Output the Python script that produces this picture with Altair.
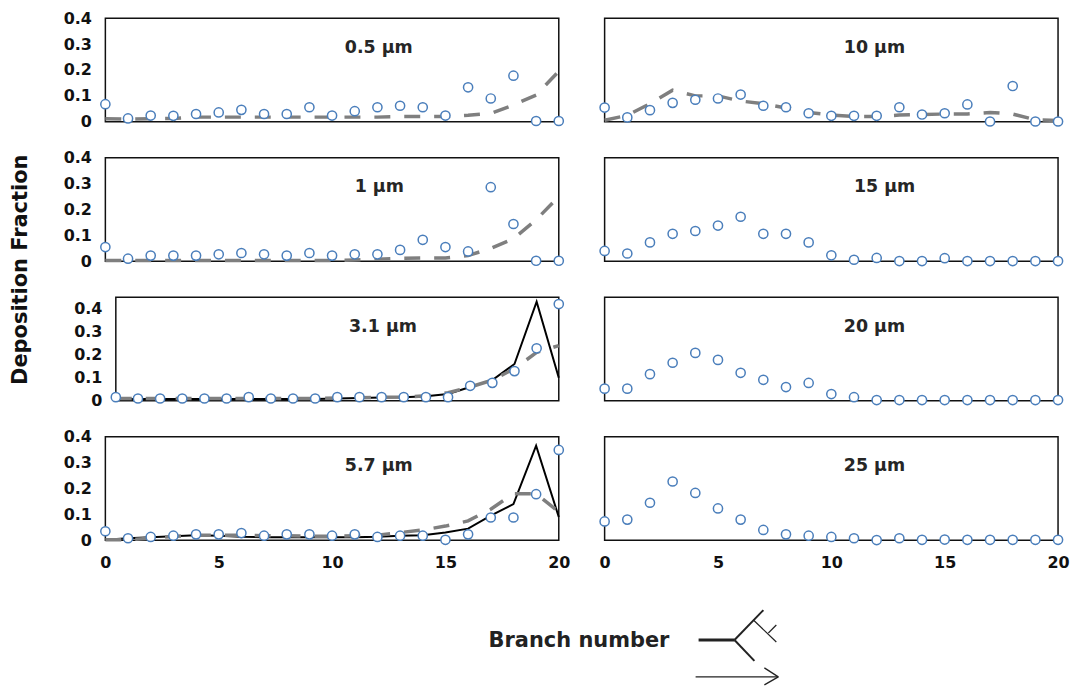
import altair as alt
import pandas as pd

branches = list(range(21))
labels = ["0.5 μm", "10 μm", "1 μm", "15 μm", "3.1 μm", "20 μm", "5.7 μm", "25 μm"]

c05 = [.068,.013,.024,.023,.03,.036,.046,.03,.03,.056,.024,.041,.056,.062,.056,.024,.133,.09,.178,.003,.003]
d05 = [.012,.01,.012,.013,.018,.018,.018,.018,.018,.018,.018,.018,.018,.02,.02,.02,.025,.032,.065,.103,.195]
c1 = [.055,.01,.022,.022,.022,.027,.032,.027,.022,.032,.022,.027,.027,.044,.083,.055,.038,.286,.144,.002,.002]
d1 = [.003,.003,.003,.003,.003,.003,.003,.003,.003,.003,.003,.005,.008,.012,.013,.013,.022,.05,.087,.16,.25]
c31 = [.016,.01,.01,.01,.01,.01,.016,.01,.01,.01,.016,.016,.016,.016,.016,.016,.065,.078,.129,.228,.42]
d31 = [.01,.01,.01,.01,.01,.01,.01,.01,.01,.01,.012,.013,.016,.016,.022,.035,.06,.09,.14,.21,.24]
b31 = [.008,.008,.008,.008,.008,.008,.008,.008,.008,.008,.01,.012,.014,.016,.02,.03,.06,.09,.16,.43,.1]
c57 = [.035,.008,.013,.018,.023,.023,.028,.018,.023,.023,.018,.023,.013,.018,.018,.002,.023,.088,.088,.178,.349]
d57 = [.002,.002,.008,.015,.02,.02,.02,.018,.018,.016,.016,.018,.02,.03,.04,.055,.075,.12,.18,.18,.11]
b57 = [.002,.008,.012,.016,.02,.018,.014,.012,.012,.012,.012,.012,.014,.018,.02,.03,.045,.095,.14,.365,.09]
c10 = [.055,.017,.045,.073,.085,.09,.105,.062,.056,.033,.023,.023,.023,.056,.028,.033,.067,.001,.138,.001,.001]
d10 = [.006,.025,.07,.122,.1,.1,.08,.07,.053,.036,.026,.02,.02,.026,.028,.03,.03,.036,.03,.008,.005]
c15 = [.04,.03,.073,.106,.117,.138,.172,.106,.106,.073,.023,.006,.013,.001,.001,.012,.001,.001,.001,.001,.001]
c20 = [.047,.047,.103,.147,.185,.158,.108,.081,.053,.069,.026,.014,.003,.003,.003,.003,.003,.003,.003,.003,.003]
c25 = [.073,.08,.145,.227,.183,.123,.08,.04,.023,.018,.013,.008,.001,.008,.002,.003,.002,.002,.002,.002,.002]

label_x = [12.06, 11.9, 12.08, 12.35, 12.06, 11.9, 12.06, 11.9]
label_y = [.285, .285, .285, .285, .32, .285, .285, .285]

icon_x1 = [700, 736, 736, 755, 770, 697, 766, 766]
icon_x2 = [736, 765, 756, 778, 778, 780, 780, 780]
icon_y1 = [640, 640, 640, 620, 633, 677, 668, 685]
icon_y2 = [640, 610, 661, 642, 625, 677, 677, 677]
icon_w = [3, 2, 2, 1.2, 1.2, 1.3, 1.3, 1.3]

FONT = "DejaVu Sans"
W, H = 455, 104
PLOT_LEFT, ROW4_TOP = 104.7, 436


def panel(i, circles, dashed=None, black=None, left=False, bottom=False, ymax=.4, inset=0, ytitle=False):
    xscale = alt.Scale(domain=[0, 20], range=[inset, W])
    yscale = alt.Scale(domain=[0, ymax], nice=False)
    xaxis = alt.Axis(values=[0, 5, 10, 15, 20], format="d", title=None, grid=False, domain=False,
                     ticks=False, labelFont=FONT, labelFontWeight="bold", labelFontSize=16,
                     labelColor="#111111", labelPadding=14, labelFlush=False, labelOverlap=False) if bottom else None
    yopts = dict(title=None)
    if ytitle:
        yopts = dict(title="Deposition Fraction", titleAngle=270, titleX=-85, titleY=112,
                     titleAlign="center", titleBaseline="middle", titleFont=FONT,
                     titleFontWeight="bold", titleFontSize=21, titleColor="#111111")
    yaxis = alt.Axis(values=[0, .1, .2, .3, .4], format=".1~f", grid=False, domain=False, ticks=False,
                     labelFont=FONT, labelFontWeight="bold", labelFontSize=16, labelColor="#111111",
                     labelPadding=14, offset=-inset, labelFlush=False, labelOverlap=False, **yopts) if left else None
    xq = alt.X("x:Q", scale=xscale, axis=xaxis)
    yq = alt.Y("y:Q", scale=yscale, axis=yaxis)
    frame = alt.Chart(pd.DataFrame({"x": [0], "x2": [20], "y": [0], "y2": [ymax]})).mark_rect(
        fillOpacity=0, stroke="#111111", strokeWidth=1.5
    ).encode(x=xq, x2="x2:Q", y=yq, y2="y2:Q")
    layers = [frame]
    if black is not None:
        layers.append(alt.Chart(pd.DataFrame({"x": branches, "y": black})).mark_line(
            color="#000000", strokeWidth=2).encode(x=xq, y=yq))
    if dashed is not None:
        layers.append(alt.Chart(pd.DataFrame({"x": branches, "y": dashed})).mark_line(
            color="#7f7f7f", strokeWidth=3.5, strokeDash=[16, 14]).encode(x=xq, y=yq))
    layers.append(alt.Chart(pd.DataFrame({"x": branches, "y": circles})).mark_point(
        shape="circle", filled=False, fill="white", fillOpacity=1, stroke="#4a7ebb", strokeWidth=1.5,
        size=85, opacity=1).encode(x=xq, y=yq))
    layers.append(alt.Chart(pd.DataFrame({"x": [label_x[i]], "y": [label_y[i]], "t": [labels[i]]})).mark_text(
        font=FONT, fontWeight="bold", fontSize=17.5, color="#262626", align="center", baseline="middle"
    ).encode(x=xq, y=yq, text="t:N"))
    if i == 6:
        for a, b, c, d, w in zip(icon_x1, icon_x2, icon_y1, icon_y2, icon_w):
            layers.append(alt.Chart(pd.DataFrame({"k": [0]})).mark_rule(color="#222222", strokeWidth=w).encode(
                x=alt.value(a - PLOT_LEFT), x2=alt.value(b - PLOT_LEFT),
                y=alt.value(c - ROW4_TOP), y2=alt.value(d - ROW4_TOP)))
        layers.append(alt.Chart(pd.DataFrame({"k": [0]})).mark_text(
            text="Branch number", font=FONT, fontWeight="bold", fontSize=21, color="#222222",
            align="center", baseline="middle"
        ).encode(x=alt.value(580 - PLOT_LEFT), y=alt.value(641 - ROW4_TOP)))
    return alt.layer(*layers).properties(width=W, height=H)


panels = [
    panel(0, c05, d05, left=True),
    panel(1, c10, d10),
    panel(2, c1, d1, left=True, ytitle=True),
    panel(3, c15),
    panel(4, c31, d31, b31, left=True, ymax=.45, inset=10.5),
    panel(5, c20),
    panel(6, c57, d57, b57, left=True, bottom=True),
    panel(7, c25, bottom=True),
]

chart = alt.concat(
    *panels, columns=2, spacing=alt.RowColnumber(row=36, column=46), bounds="flush"
).properties(padding={"left": 1.7, "top": 1, "right": 0, "bottom": 0}, background="white").configure_view(stroke=None)

chart.save("out.html", embed_options={"renderer": "svg", "actions": False})
